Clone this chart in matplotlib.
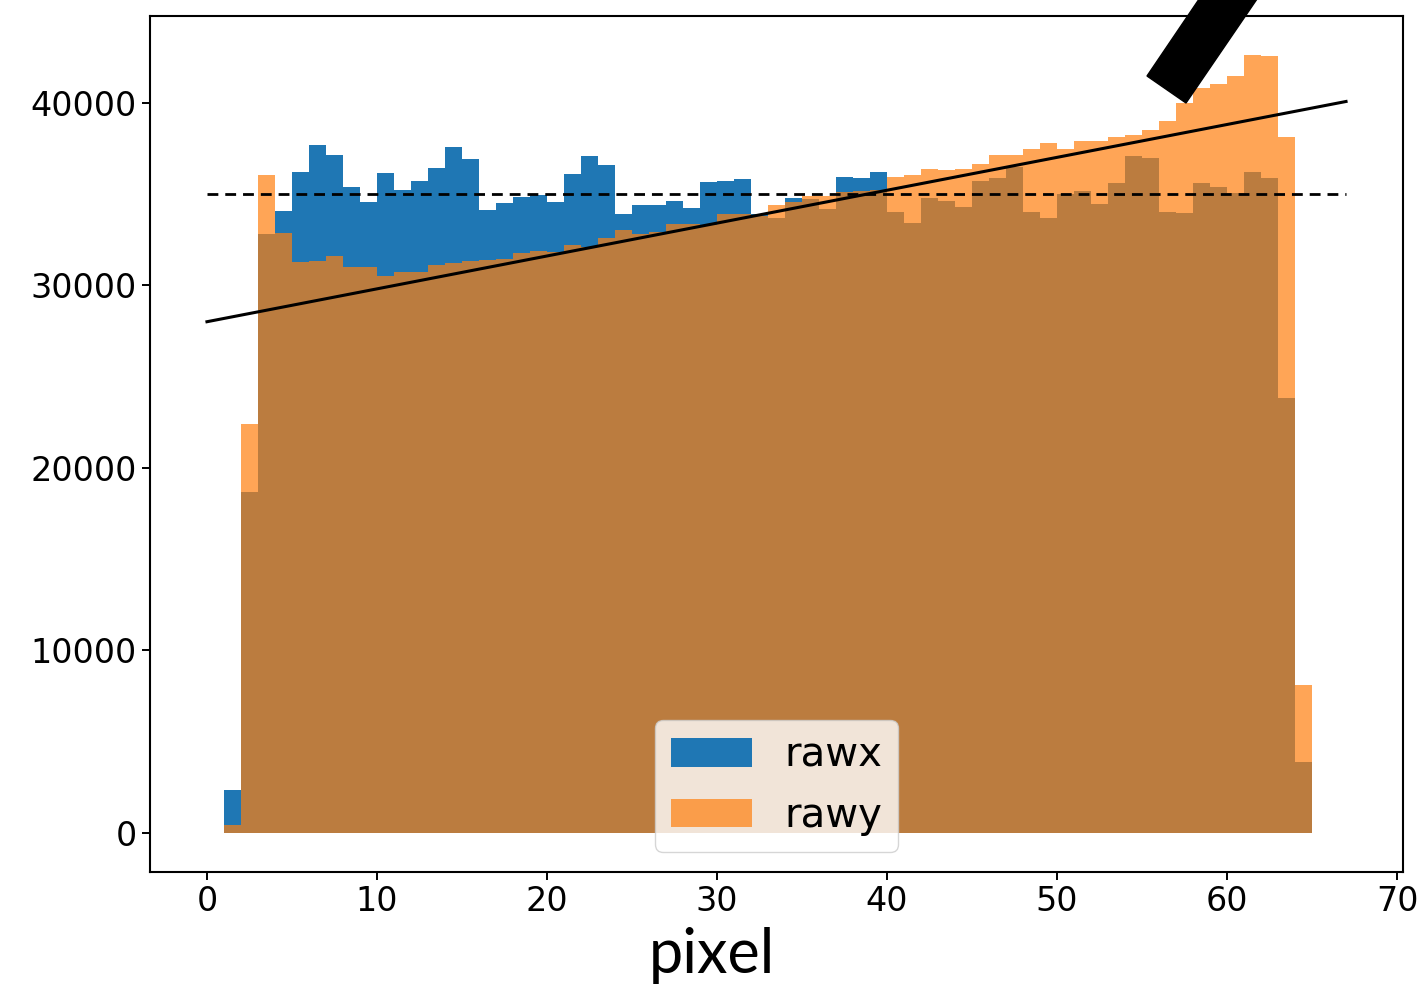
import numpy as np
import matplotlib
matplotlib.use("Agg")
import matplotlib.pyplot as plt
from matplotlib.patches import Polygon

# ---- data ----
bin_left = list(range(1, 65))
rawx = [2370, 18700, 32800, 34050, 36200, 37680, 37130, 35380, 34550, 36170,
        35240, 35710, 36440, 37560, 36920, 34120, 34500, 34840, 34950, 34550,
        36100, 37050, 36570, 33900, 34400, 34400, 34620, 34250, 35660, 35730,
        35840, 33900, 33700, 34750, 34700, 34150, 35930, 35860, 36220, 34020,
        33420, 34780, 34600, 34290, 35700, 35860, 36460, 34030, 33700, 34970,
        35150, 34420, 35600, 37060, 36990, 34020, 33930, 35600, 35380, 35060,
        36190, 35860, 23840, 3920]
rawy = [440, 22420, 36060, 32840, 31265, 31320, 31590, 31000, 30970, 30500,
        30750, 30750, 31120, 31240, 31350, 31390, 31440, 31750, 31880, 31830,
        32175, 32100, 32575, 33050, 32830, 32920, 33350, 33350, 33300, 33900,
        33900, 33800, 34370, 34550, 34880, 34880, 35100, 35150, 35240, 35930,
        36060, 36370, 36330, 36370, 36640, 37130, 37130, 37460, 37770, 37480,
        37880, 37880, 38140, 38250, 38480, 39010, 39950, 40780, 41020, 41480,
        42610, 42570, 38140, 8130]
line_x = [0, 67]
fit_intercept = 28000
fit_slope = 180
mean_level = 35000
y_ticks = [0, 10000, 20000, 30000, 40000]
series_labels = ["rawx", "rawy"]
xlabel = "pixel"

# ---- figure ----
fig = plt.figure(figsize=(14.17, 9.89), dpi=100)
ax = fig.add_axes([150/1417, 1-872/989, (1403-150)/1417, (872-16)/989])

ax.bar(bin_left, rawx, width=1, align="edge", color="C0", label=series_labels[0])
ax.bar(bin_left, rawy, width=1, align="edge", color="C1", alpha=0.7, label=series_labels[1])

lx = np.array(line_x, dtype=float)
ax.plot(lx, fit_intercept + fit_slope * lx, color="black", lw=2.2)
ax.plot(lx, [mean_level, mean_level], color="black", lw=2.0, ls=(0, (3.9, 2.5)))

ymax = max(max(rawx), max(rawy))
ax.set_ylim(-0.05 * ymax, 1.05 * ymax)
ax.set_yticks(y_ticks)

ax.legend(loc="lower center", fontsize=29, handlelength=2.0, handleheight=0.7)

ax.tick_params(labelsize=24, length=6, width=1.4)
for s in ax.spines.values():
    s.set_linewidth(1.5)

fig.text(712/1417, 1-973/989, xlabel, family="Lato", fontsize=44,
         ha="center", va="baseline")

# thick black annotation stroke at top right
pts = [(1147/1417, 1-76/989), (1186/1417, 1-103/989),
       (1270/1417, 1+20/989), (1212/1417, 1+20/989)]
fig.add_artist(Polygon(pts, closed=True, transform=fig.transFigure,
                       facecolor="black", edgecolor="black", clip_on=False))

fig.savefig("out.png", dpi=100)
